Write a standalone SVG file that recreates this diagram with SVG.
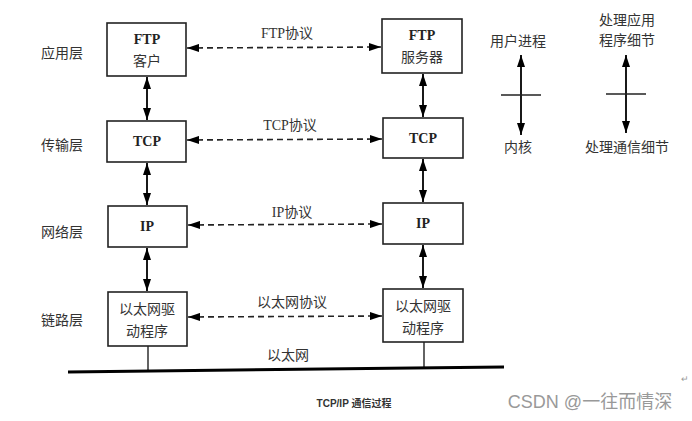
<svg xmlns="http://www.w3.org/2000/svg" width="692" height="421" viewBox="0 0 692 421">
<defs>
<marker id="ah" viewBox="0 0 12 8" refX="12" refY="4" markerWidth="12" markerHeight="8" markerUnits="userSpaceOnUse" orient="auto-start-reverse">
<path d="M0,0 L12,4 L0,8 Z" fill="#000"/>
</marker>
</defs>
<style>
.box{fill:#fff;stroke:#222;stroke-width:1.6}
.t{font-family:"Liberation Serif","Noto Sans CJK SC",serif;font-size:14px;fill:#333;text-anchor:middle}
.b{font-weight:bold;fill:#222}
.solid{stroke:#000;stroke-width:1.8;fill:none}
.dash{stroke:#222;stroke-width:1.6;stroke-dasharray:6,4;fill:none}
</style>
<rect width="692" height="421" fill="#fff"/>

<g id="layer-labels">
<text class="t" x="62" y="58">应用层</text>
<text class="t" x="62" y="150">传输层</text>
<text class="t" x="62" y="237">网络层</text>
<text class="t" x="62" y="325">链路层</text>
</g>

<g id="ftp-client"><rect class="box" x="107" y="23" width="79" height="53"/><text class="t b" x="147" y="44">FTP</text><text class="t" x="147" y="66">客户</text></g>
<g id="tcp-left"><rect class="box" x="107" y="121" width="79" height="41"/><text class="t b" x="147" y="146">TCP</text></g>
<g id="ip-left"><rect class="box" x="108" y="206" width="79" height="41"/><text class="t b" x="147" y="231">IP</text></g>
<g id="eth-left"><rect class="box" x="108" y="292" width="79" height="54"/><text class="t" x="147" y="314">以太网驱</text><text class="t" x="147" y="336">动程序</text></g>

<g id="ftp-server"><rect class="box" x="382" y="19" width="80" height="54"/><text class="t b" x="422" y="40">FTP</text><text class="t" x="422" y="62">服务器</text></g>
<g id="tcp-right"><rect class="box" x="383" y="118" width="80" height="40"/><text class="t b" x="423" y="143">TCP</text></g>
<g id="ip-right"><rect class="box" x="383" y="203" width="80" height="41"/><text class="t b" x="423" y="228">IP</text></g>
<g id="eth-right"><rect class="box" x="383" y="289" width="80" height="53"/><text class="t" x="423" y="311">以太网驱</text><text class="t" x="423" y="333">动程序</text></g>

<g id="connectors">
<line class="solid" x1="147" y1="77" x2="147" y2="120" marker-start="url(#ah)" marker-end="url(#ah)"/>
<line class="solid" x1="147" y1="163" x2="147" y2="205" marker-start="url(#ah)" marker-end="url(#ah)"/>
<line class="solid" x1="147" y1="248" x2="147" y2="291" marker-start="url(#ah)" marker-end="url(#ah)"/>
<line class="solid" x1="423" y1="74" x2="423" y2="117" marker-start="url(#ah)" marker-end="url(#ah)"/>
<line class="solid" x1="423" y1="159" x2="423" y2="202" marker-start="url(#ah)" marker-end="url(#ah)"/>
<line class="solid" x1="423" y1="245" x2="423" y2="288" marker-start="url(#ah)" marker-end="url(#ah)"/>
<line class="dash" x1="187" y1="48" x2="381" y2="47" marker-start="url(#ah)" marker-end="url(#ah)"/>
<line class="dash" x1="187" y1="140" x2="382" y2="139" marker-start="url(#ah)" marker-end="url(#ah)"/>
<line class="dash" x1="188" y1="225" x2="382" y2="224" marker-start="url(#ah)" marker-end="url(#ah)"/>
<line class="dash" x1="188" y1="317" x2="382" y2="316" marker-start="url(#ah)" marker-end="url(#ah)"/>
<line stroke="#222" stroke-width="1.4" x1="148" y1="346" x2="148" y2="371"/>
<line stroke="#222" stroke-width="1.4" x1="424" y1="342" x2="424" y2="368"/>
<line stroke="#000" stroke-width="3" x1="68" y1="372" x2="504" y2="367"/>
</g>

<g id="protocol-labels">
<text class="t" x="287" y="38">FTP协议</text>
<text class="t" x="290" y="130">TCP协议</text>
<text class="t" x="292" y="217">IP协议</text>
<text class="t" x="292" y="307">以太网协议</text>
<text class="t" x="288" y="360">以太网</text>
</g>

<g id="legend-1">
<text class="t" x="518" y="46">用户进程</text>
<line class="solid" x1="521" y1="55" x2="521" y2="135" marker-start="url(#ah)" marker-end="url(#ah)"/>
<line stroke="#222" stroke-width="1.6" x1="501" y1="95" x2="541" y2="95"/>
<text class="t" x="518" y="152">内核</text>
</g>
<g id="legend-2">
<text class="t" x="627" y="25">处理应用</text>
<text class="t" x="627" y="45">程序细节</text>
<line class="solid" x1="626" y1="55" x2="626" y2="133" marker-start="url(#ah)" marker-end="url(#ah)"/>
<line stroke="#222" stroke-width="1.6" x1="606" y1="94" x2="646" y2="94"/>
<text class="t" x="627" y="152">处理通信细节</text>
</g>

<text x="354" y="407" font-family="'Liberation Sans','Noto Sans CJK SC',sans-serif" font-size="10" font-weight="bold" fill="#333" text-anchor="middle">TCP/IP 通信过程</text>
<text x="685" y="382" font-family="'Liberation Sans',sans-serif" font-size="9" fill="#999" text-anchor="middle">↵</text>
<text x="590" y="408" font-family="'Liberation Sans','Noto Sans CJK SC',sans-serif" font-size="18" fill="#999" text-anchor="middle">CSDN @一往而情深</text>
</svg>
